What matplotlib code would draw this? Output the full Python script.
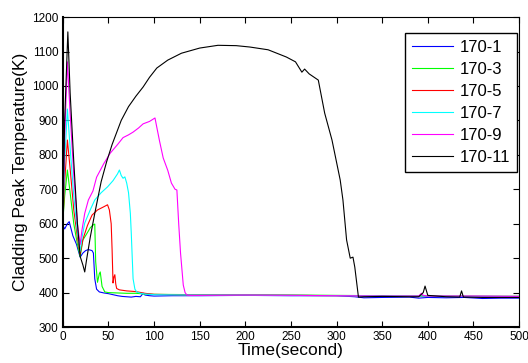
import matplotlib
matplotlib.use('Agg')
import matplotlib.pyplot as plt

plt.rcParams['font.family'] = ['Liberation Sans', 'DejaVu Sans']

# 170-1
t1 = [0, 2, 5, 7, 11, 15, 19, 22, 25, 28, 32, 33.5, 35, 37, 40, 45, 50, 55, 60, 65, 70,
      75, 80, 85, 88, 90, 95, 100, 120, 150, 200, 250, 300, 320, 330, 350, 380, 390,
      400, 420, 440, 460, 480, 500]
T1 = [595, 585, 600, 606, 565, 540, 503, 515, 522, 525, 522, 515, 440, 410, 402, 399,
      397, 394, 391, 389, 388, 387, 389, 388, 398, 393, 391, 390, 391, 391, 392, 391,
      391, 388, 385, 386, 387, 384, 386, 385, 386, 383, 384, 384]
# 170-3
t3 = [0, 2, 5, 8, 12, 16, 19, 22, 26, 30, 33, 35, 36, 38, 40, 41, 43, 46, 50, 60, 70,
      80, 90, 100, 150, 200, 260, 300, 350, 400, 450, 500]
T3 = [610, 680, 756, 690, 600, 540, 505, 553, 570, 588, 596, 599, 490, 430, 455, 460,
      418, 402, 400, 399, 398, 398, 396, 395, 394, 394, 393, 392, 391, 390, 389, 389]
# 170-5
t5 = [0, 2, 5, 8, 12, 16, 19, 22, 27, 32, 38, 44, 49, 51, 53, 54, 55, 56, 57, 58, 59,
      62, 70, 80, 90, 100, 150, 200, 300, 400, 500]
T5 = [600, 720, 843, 760, 640, 560, 512, 555, 595, 625, 640, 648, 655, 640, 600, 524,
      428, 445, 452, 425, 412, 408, 405, 403, 398, 395, 393, 393, 391, 390, 389]
# 170-7
t7 = [0, 2, 5, 8, 12, 16, 19, 21, 24, 30, 35, 42, 49, 55, 60, 62, 64, 66, 68, 70, 72,
      74, 75, 77, 79, 81, 85, 90, 100, 150, 200, 300, 400, 500]
T7 = [600, 780, 933, 820, 680, 575, 520, 560, 602, 640, 669, 690, 707, 725, 745, 756,
      740, 732, 736, 718, 690, 630, 573, 440, 410, 402, 398, 396, 394, 393, 393, 391,
      390, 389]
# 170-9
t9 = [0, 2, 5, 8, 12, 16, 19, 21, 24, 28, 33, 37, 45, 52, 60, 66, 72, 77, 83, 88, 95,
      101, 103, 106, 110, 115, 119, 123, 125, 127, 129, 132, 134, 136, 140, 150, 200,
      260, 300, 350, 390, 393, 395, 400, 450, 500]
T9 = [600, 850, 1070, 920, 740, 600, 540, 582, 630, 669, 695, 735, 775, 805, 830, 850,
      858, 866, 878, 890, 897, 907, 880, 840, 791, 755, 718, 700, 698, 600, 515, 422,
      400, 393, 392, 392, 393, 392, 391, 390, 390, 398, 392, 390, 390, 389]
# 170-11
t11 = [0, 2, 5.5, 8, 12, 16, 19, 22, 24, 26, 30, 35, 42, 48, 54, 60, 64, 72, 80, 88, 95,
       103, 115, 130, 150, 170, 190, 205, 225, 245, 255, 262, 265, 270, 280, 287, 295,
       304, 307, 311, 315, 318, 320, 324, 330, 350, 380, 390, 395, 397, 400, 420, 435,
       437, 439, 460, 480, 500]
T11 = [610, 900, 1157, 980, 780, 600, 505, 480, 460, 495, 560, 630, 722, 780, 830, 872,
       900, 940, 970, 997, 1025, 1052, 1075, 1095, 1110, 1118, 1117, 1113, 1105, 1084,
       1070, 1040, 1049, 1035, 1017, 921, 843, 727, 669, 553, 500, 503, 474, 387, 388,
       389, 388, 388, 400, 419, 392, 388, 387, 405, 387, 386, 386, 386]

series = [
    ('170-1', t1, T1, '#0000ff'),
    ('170-3', t3, T3, '#00ff00'),
    ('170-5', t5, T5, '#ff0000'),
    ('170-7', t7, T7, '#00ffff'),
    ('170-9', t9, T9, '#ff00ff'),
    ('170-11', t11, T11, '#000000'),
]

fig = plt.figure(figsize=(5.28, 3.63), dpi=100)
ax = fig.add_axes([0.119, 0.099, 0.864, 0.854])

for name, t, T, c in series:
    ax.plot(t, T, color=c, lw=0.8, label=name)

ax.set_xlim(0, 500)
ax.set_ylim(300, 1200)
ax.set_xticks(range(0, 501, 50))
ax.set_yticks(range(300, 1201, 100))
ax.tick_params(direction='in', top=True, right=True, length=4, width=0.8,
               labelsize=8.5, pad=3)
for s in ['left', 'bottom']:
    ax.spines[s].set_linewidth(1.5)
for s in ['top', 'right']:
    ax.spines[s].set_linewidth(0.8)

ax.set_xlabel('Time(second)', fontsize=12.5, labelpad=0)
ax.set_ylabel('Cladding Peak Temperature(K)', fontsize=12.5, labelpad=3)

leg = ax.legend(loc='upper right', bbox_to_anchor=(0.996, 0.948), borderaxespad=0,
                fontsize=12, fancybox=False, edgecolor='k', framealpha=1,
                handlelength=2.5, labelspacing=0.42, handletextpad=0.4,
                borderpad=0.4)
leg.get_frame().set_linewidth(1.0)

fig.savefig('out.png', dpi=100)
